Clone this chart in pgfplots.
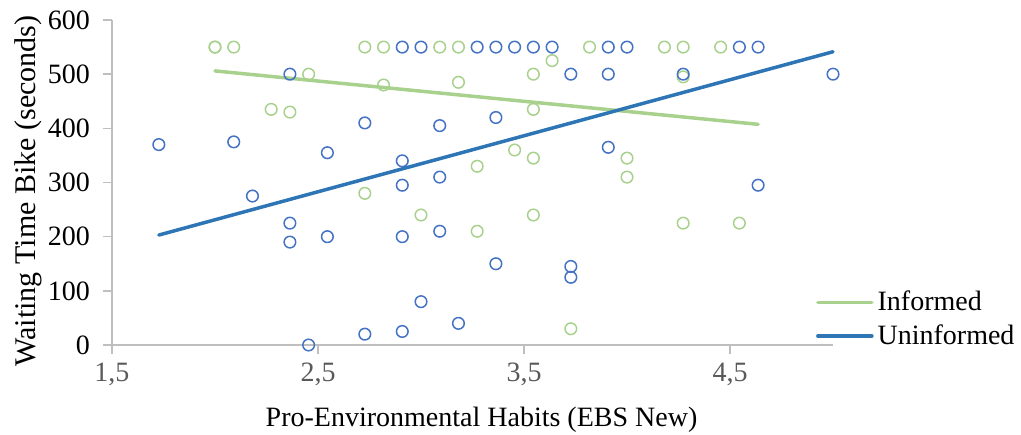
\documentclass[border=0pt]{standalone}
\usepackage{fontspec}
\setmainfont{Liberation Serif}
\usepackage{pgfplots}
\pgfplotsset{compat=1.18}
\definecolor{grn}{HTML}{A9D18E}
\definecolor{blu}{HTML}{4472C4}
\definecolor{bluT}{HTML}{2E75B6}
\definecolor{axgray}{HTML}{BFBFBF}
\definecolor{tickgray}{HTML}{595959}
\newcommand{\ff}{\fontsize{14}{16.8}\selectfont}
\begin{document}
\begin{tikzpicture}
\begin{axis}[name=a, scale only axis, width=360.5pt, height=162.5pt,
  xmin=1.5, xmax=5, ymin=0, ymax=600, clip=false,
  axis x line*=bottom, axis y line*=left,
  axis line style={axgray, line width=0.75pt, -},
  xtick={1.5,2.5,3.5,4.5}, xticklabels={{1,5},{2,5},{3,5},{4,5}},
  ytick={0,100,200,300,400,500,600}, yticklabels={0,100,200,300,400,500,600},
  tick align=outside, major tick length=4.5pt,
  tick style={axgray, line width=0.75pt},
  xticklabel style={font=\ff, text=tickgray, yshift=-1pt},
  yticklabel style={font=\ff, text=black, xshift=-3pt},
  xlabel={Pro-Environmental Habits (EBS New)},
  ylabel={Waiting Time Bike (seconds)},
  xlabel style={font=\ff, anchor=base, at={(axis description cs:0.5125,-0.252)}},
  ylabel style={font=\fontsize{15}{18}\selectfont, anchor=base, at={(axis description cs:-0.106,0.474)}},
  legend style={at={(axis description cs:0.976,0.18)}, anchor=north west, draw=none, fill=none, font=\ff, inner sep=0pt, row sep=1.5pt},
  legend cell align=left,
  legend image code/.code={\draw[#1, line width=1.75pt, line cap=round] (0pt,0pt) -- (27pt,0pt);},
]
% Informed (green)
\addplot[only marks, mark=o, mark size=2.9pt, mark options={grn, line width=0.75pt}, forget plot] coordinates {
(2.0000,550) (2.0000,550) (2.0909,550) (2.2727,435) (2.3636,430) (2.4545,500)
(2.7273,550) (2.7273,280) (2.8182,550) (2.8182,480) (3.0000,240)
(3.0909,550) (3.1818,550) (3.1818,485) (3.2727,330) (3.2727,210)
(3.4545,360) (3.5455,500) (3.5455,435) (3.5455,345) (3.5455,240)
(3.6364,525) (3.7273,30) (3.8182,550) (4.0000,345) (4.0000,310)
(4.1818,550) (4.2727,550) (4.2727,495) (4.2727,225) (4.4545,550) (4.5455,225)
};
% Uninformed (blue)
\addplot[only marks, mark=o, mark size=2.9pt, mark options={blu, line width=0.75pt}, forget plot] coordinates {
(1.7273,370) (2.0909,375) (2.1818,275) (2.3636,500) (2.3636,225) (2.3636,190)
(2.4545,0) (2.5455,355) (2.5455,200) (2.7273,410) (2.7273,20)
(2.9091,550) (2.9091,340) (2.9091,295) (2.9091,200) (2.9091,25)
(3.0000,550) (3.0000,80) (3.0909,405) (3.0909,310) (3.0909,210) (3.1818,40)
(3.2727,550) (3.3636,550) (3.3636,420) (3.3636,150) (3.4545,550) (3.5455,550)
(3.6364,550) (3.7273,500) (3.7273,145) (3.7273,125) (3.9091,550) (3.9091,500)
(3.9091,365) (4.0000,550) (4.2727,500) (4.5455,550) (4.6364,550) (4.6364,295)
(5.0000,500)
};
% trend lines
\addplot[grn, line width=1.75pt, line cap=round] coordinates {(2.0000,506) (4.6364,407.4)};
\addlegendentry{Informed}
\addplot[bluT, line width=1.75pt, line cap=round] coordinates {(1.7273,203) (5.0000,541.4)};
\addlegendentry{Uninformed}
\end{axis}
\pgfresetboundingbox
\path ([xshift=-56pt,yshift=-44.5pt]a.south west) rectangle ([xshift=94pt,yshift=10pt]a.north east);
\end{tikzpicture}
\end{document}
